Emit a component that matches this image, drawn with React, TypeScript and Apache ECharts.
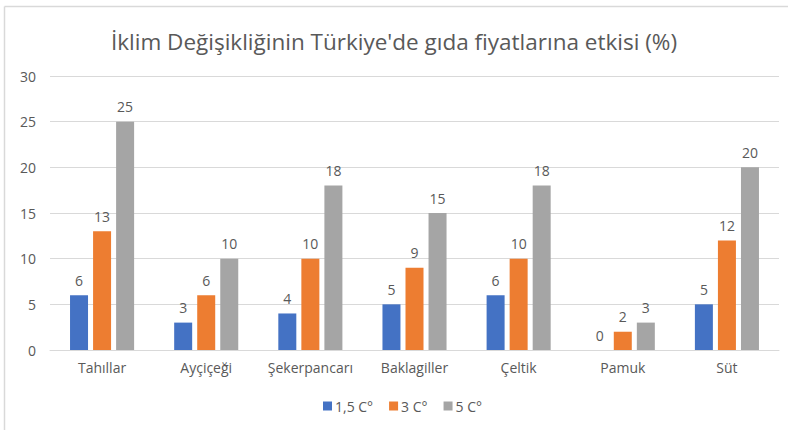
import React, { useEffect, useRef } from "react";
import * as echarts from "echarts";

const categories = ["Tahıllar", "Ayçiçeği", "Şekerpancarı", "Baklagiller", "Çeltik", "Pamuk", "Süt"];
const s15 = [6, 3, 4, 5, 6, 0, 5];
const s3 = [13, 6, 10, 9, 10, 2, 12];
const s5 = [25, 10, 18, 15, 18, 3, 20];
const seriesNames = ["1,5 C°", "3 C°", "5 C°"];
const colors = ["#4472C4", "#ED7D31", "#A5A5A5"];
const titleText = "İklim Değişikliğinin Türkiye'de gıda fiyatlarına etkisi (%)";

const FONT = "'Open Sans', 'Noto Sans', sans-serif";

export default function App() {
  const ref = useRef<HTMLDivElement>(null);
  useEffect(() => {
    if (!ref.current) return;
    const chart = echarts.init(ref.current, undefined, { renderer: "svg" });
    const mk = (name: string, data: number[], color: string) => ({
      name,
      type: "bar",
      data,
      barWidth: 18,
      barGap: "28%",
      itemStyle: { color },
      label: {
        show: true,
        position: "top",
        distance: 8,
        color: "#595959",
        fontSize: 14,
        fontFamily: FONT,
      },
    });
    chart.setOption({
      animation: false,
      backgroundColor: "#ffffff",
      title: {
        text: titleText,
        left: "center",
        top: 25,
        textStyle: { color: "#595959", fontSize: 22.5, fontWeight: "normal", fontFamily: FONT },
      },
      legend: {
        data: seriesNames,
        bottom: 12,
        left: 318,
        itemWidth: 9,
        itemHeight: 9,
        itemGap: 16,
        icon: "rect",
        textStyle: { color: "#595959", fontSize: 14, fontFamily: FONT, padding: [0, 0, 0, -2] },
      },
      grid: { left: 50, right: 9, top: 76, bottom: 80 },
      xAxis: {
        type: "category",
        data: categories,
        axisLine: { lineStyle: { color: "#D9D9D9" } },
        axisTick: { show: false },
        axisLabel: { color: "#595959", fontSize: 14, fontFamily: FONT, margin: 10, interval: 0 },
      },
      yAxis: {
        type: "value",
        min: 0,
        max: 30,
        interval: 5,
        axisLine: { show: false },
        axisTick: { show: false },
        splitLine: { lineStyle: { color: "#D9D9D9" } },
        axisLabel: { color: "#595959", fontSize: 14, fontFamily: FONT, margin: 14 },
      },
      graphic: [
        { type: "line", shape: { x1: 4.5, y1: 6.5, x2: 788, y2: 6.5 }, style: { stroke: "#D9D9D9", lineWidth: 1.5 } },
        { type: "line", shape: { x1: 4.5, y1: 6.5, x2: 4.5, y2: 430 }, style: { stroke: "#D9D9D9", lineWidth: 1.5 } },
      ],
      series: [mk(seriesNames[0], s15, colors[0]), mk(seriesNames[1], s3, colors[1]), mk(seriesNames[2], s5, colors[2])],
    });
    return () => chart.dispose();
  }, []);
  return (
    <div style={{ position: "fixed", left: 0, top: 0, width: 788, height: 430 }}>
      <div ref={ref} style={{ width: 788, height: 430 }} />
    </div>
  );
}
